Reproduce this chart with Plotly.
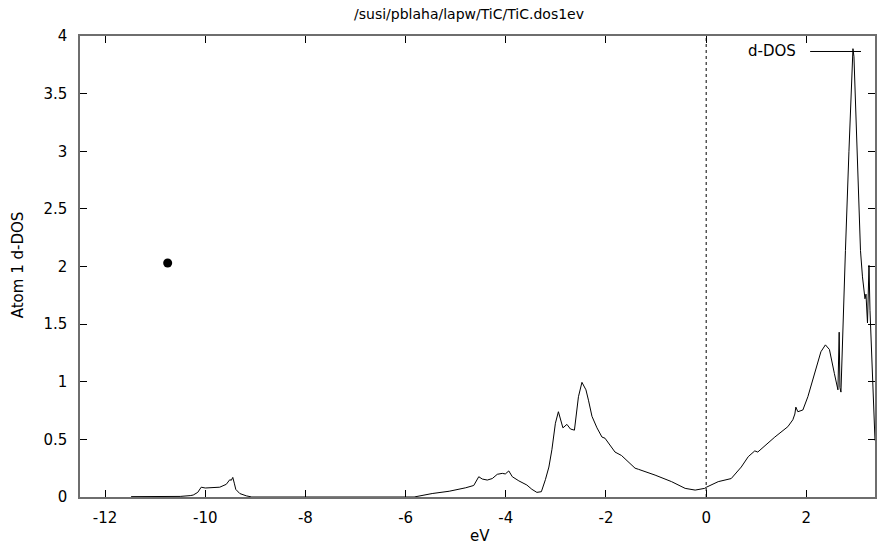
import plotly.graph_objects as go

# Data
energy_ev = [-11.48, -10.5, -10.3, -10.24, -10.15, -10.08, -10.0, -9.85, -9.71, -9.58,
             -9.51, -9.48, -9.45, -9.42, -9.39, -9.31, -9.18, -9.07,
             -5.83, -5.47, -5.13, -4.80, -4.64, -4.54, -4.47, -4.37, -4.27, -4.17,
             -4.07, -4.01, -3.94, -3.87, -3.74, -3.58, -3.48, -3.38, -3.29, -3.21,
             -3.14, -3.08, -3.01, -2.95, -2.86, -2.78, -2.71, -2.63, -2.55, -2.48,
             -2.40, -2.35, -2.28, -2.18, -2.08, -2.02, -1.82, -1.69, -1.42, -1.35,
             -1.02, -0.69, -0.42, -0.22, -0.03, 0.0, 0.24, 0.50, 0.70, 0.84, 0.97,
             1.03, 1.37, 1.63, 1.73, 1.77, 1.79, 1.83, 1.93, 2.03, 2.16, 2.29, 2.38,
             2.46, 2.56, 2.63, 2.655, 2.67, 2.69, 2.74, 2.78, 2.85, 2.93, 2.95, 3.0,
             3.08, 3.12, 3.15, 3.17, 3.19, 3.22, 3.25, 3.27, 3.37]
d_dos = [0.003, 0.005, 0.012, 0.017, 0.04, 0.085, 0.078, 0.08, 0.085, 0.11,
         0.15, 0.145, 0.17, 0.12, 0.066, 0.03, 0.01, 0.0,
         0.0, 0.03, 0.05, 0.08, 0.10, 0.176, 0.156, 0.147, 0.16, 0.197,
         0.205, 0.2, 0.226, 0.176, 0.14, 0.104, 0.067, 0.04, 0.046, 0.15,
         0.26, 0.41, 0.64, 0.74, 0.60, 0.63, 0.59, 0.58, 0.87, 0.995,
         0.93, 0.84, 0.70, 0.60, 0.52, 0.51, 0.39, 0.36, 0.25, 0.24,
         0.19, 0.133, 0.075, 0.06, 0.075, 0.084, 0.133, 0.16, 0.26, 0.35, 0.40,
         0.39, 0.52, 0.61, 0.67, 0.72, 0.78, 0.74, 0.755, 0.87, 1.07, 1.26, 1.32,
         1.28, 1.07, 0.93, 1.43, 0.95, 0.91, 1.5, 2.14, 3.0, 3.89, 3.82, 3.1,
         2.14, 1.91, 1.80, 1.72, 1.76, 1.51, 2.01, 1.62, 0.49]

dot_x = [-10.75]
dot_y = [2.03]

x_ticks = [-12, -10, -8, -6, -4, -2, 0, 2]
y_ticks = [0, 0.5, 1, 1.5, 2, 2.5, 3, 3.5, 4]

title_text = "/susi/pblaha/lapw/TiC/TiC.dos1ev"
x_title = "eV"
y_title = "Atom 1 d-DOS"
legend_label = "d-DOS"

FONT = "DejaVu Sans"
frame_col = "#6e6e6e"

fig = go.Figure()
fig.add_trace(go.Scatter(x=energy_ev, y=d_dos, mode="lines",
                         line=dict(color="black", width=1), showlegend=False,
                         hoverinfo="skip"))
fig.add_trace(go.Scatter(x=dot_x, y=dot_y, mode="markers",
                         marker=dict(color="black", size=9), showlegend=False))

# zero-energy marker
fig.add_shape(type="line", xref="x", yref="paper", x0=0, x1=0, y0=0, y1=1,
              line=dict(color="black", width=1, dash="dot"))

# legend entry (text left of line sample, gnuplot style)
fig.add_annotation(text=legend_label, xref="paper", yref="paper",
                   x=0.9034, y=0.9664, xanchor="right", yanchor="middle",
                   showarrow=False, font=dict(family=FONT, size=15, color="black"))
fig.add_shape(type="line", xref="paper", yref="paper", x0=0.9184, x1=0.9824,
              y0=0.9664, y1=0.9664, line=dict(color="black", width=1))

fig.add_annotation(text=title_text, xref="paper", yref="paper", x=0.489, y=1.048,
                   xanchor="center", yanchor="middle", showarrow=False,
                   font=dict(family=FONT, size=14, color="black"))
fig.add_annotation(text=x_title, xref="paper", yref="paper", x=0.503, y=-0.0846,
                   xanchor="center", yanchor="middle", showarrow=False,
                   font=dict(family=FONT, size=15, color="black"))
fig.add_annotation(text=y_title, xref="paper", yref="paper", x=-0.0778, y=0.503,
                   xanchor="center", yanchor="middle", showarrow=False, textangle=-90,
                   font=dict(family=FONT, size=15, color="black"))

axis_common = dict(showgrid=False, zeroline=False, showline=True, linecolor=frame_col,
                   linewidth=1.5, ticks="inside", ticklen=7, tickcolor="black",
                   tickwidth=1, mirror="allticks",
                   tickfont=dict(family=FONT, size=15, color="black"))

fig.update_xaxes(range=[-12.5, 3.37], tickvals=x_ticks,
                 ticktext=[str(v) for v in x_ticks], ticklabelstandoff=6,
                 **axis_common)
fig.update_yaxes(range=[0, 4], tickvals=y_ticks,
                 ticktext=[("%g" % v) for v in y_ticks], ticklabelstandoff=8,
                 **axis_common)

fig.update_layout(width=878, height=551, autosize=False,
                  margin=dict(l=80, r=1, t=36, b=54),
                  paper_bgcolor="white", plot_bgcolor="white",
                  font=dict(family=FONT))

fig.write_html("out.html", config={"displayModeBar": False},
               post_script="document.body.style.margin='0';document.body.style.overflow='hidden';")
